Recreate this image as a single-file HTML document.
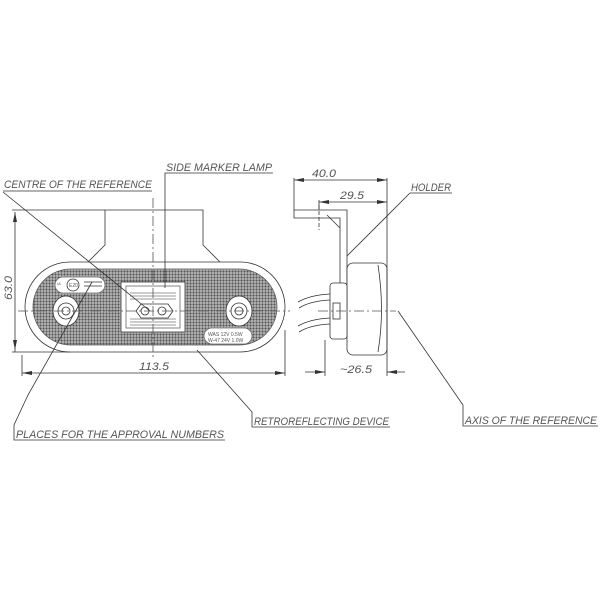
<!DOCTYPE html>
<html><head><meta charset="utf-8"><style>
html,body{margin:0;padding:0;background:#fff;}
svg{display:block}
text{font-family:"Liberation Sans",sans-serif;font-style:italic;fill:#555;font-size:11px;}
</style></head><body>
<svg width="600" height="600" viewBox="0 0 600 600" xmlns="http://www.w3.org/2000/svg">
<defs>
<pattern id="dots" width="3" height="3" patternUnits="userSpaceOnUse">
<rect width="3" height="3" fill="#bbb"/>
<circle cx="1.5" cy="1.5" r="1.1" fill="#555"/>
</pattern>
</defs>
<g fill="none" stroke="#333" stroke-width="0.8">
<polyline points="88,262 105,245 105,210 203,210 203,245 220,262"/>
<rect x="25" y="262" width="260" height="90" rx="45" fill="#fff"/>
<rect x="33" y="269" width="244" height="76" rx="38" fill="url(#dots)" stroke="#555"/>
<rect x="121" y="282" width="64" height="50" fill="#fff"/>
<rect x="126" y="286" width="54" height="42" fill="#fff" stroke="#666"/>
<g stroke="#777"><line x1="130" y1="293" x2="176" y2="293"/><line x1="130" y1="296" x2="176" y2="296"/><line x1="130" y1="299" x2="176" y2="299"/>
<line x1="130" y1="322" x2="176" y2="322"/><line x1="130" y1="325" x2="176" y2="325"/><line x1="130" y1="319" x2="176" y2="319"/></g>
<polygon points="136,311 141,304 168,304 173,311 168,318 141,318" fill="#fff"/>
<circle cx="145" cy="311" r="4"/><circle cx="162" cy="311" r="4"/>
<ellipse cx="66" cy="311" rx="13" ry="15" fill="#fff"/><circle cx="66" cy="311" r="8"/><circle cx="66" cy="311" r="4"/>
<ellipse cx="239" cy="311" rx="13" ry="15" fill="#fff"/><circle cx="239" cy="311" r="8"/><circle cx="239" cy="311" r="4"/>
<rect x="55" y="277" width="50" height="16" rx="8" fill="#fff" stroke="#666"/>
<circle cx="73" cy="285" r="6" fill="#fff"/>
<line x1="84" y1="282" x2="102" y2="282"/><line x1="84" y1="286" x2="102" y2="286"/>
<rect x="204" y="328" width="48" height="16" rx="8" fill="#fff" stroke="#666"/>
<line x1="153" y1="198" x2="153" y2="360" stroke-dasharray="10,3,2,3" stroke="#555"/>
<line x1="18" y1="311" x2="290" y2="311" stroke-dasharray="10,3,2,3" stroke="#555"/>
<line x1="15" y1="212" x2="15" y2="352"/><line x1="12" y1="210" x2="105" y2="210"/><line x1="12" y1="352" x2="70" y2="352"/>
<line x1="22" y1="355" x2="22" y2="376"/><line x1="285" y1="330" x2="285" y2="376"/>
<line x1="22" y1="373" x2="285" y2="373"/>
<polyline points="3,192 150,311"/>
<line x1="3" y1="191" x2="152" y2="191"/>
<polyline points="165,288 165,173 273,173"/>
<polyline points="92,282 28,395 14,425 14,440 225,440"/>
<polyline points="197,350 252,412 252,427 390,427"/>
<polyline points="398,311 463,405 463,426 598,426"/>
<polyline points="345,258 410,193 452,193"/>
<polyline points="294,210 294,218 340,218 340,330 347,330 347,210 294,210" fill="#fff"/>
<line x1="319" y1="205" x2="319" y2="230" stroke-dasharray="4,2"/>
<line x1="327" y1="215" x2="340" y2="228"/>
<rect x="347" y="263" width="40" height="92" rx="6" fill="#fff"/>
<path d="M378,265 Q385,310 378,352" />
<rect x="330" y="283" width="17" height="56" rx="3" fill="#fff"/>
<rect x="333" y="303" width="7" height="16"/>
<path d="M330,294 Q310,295 298,302 M330,300 Q310,301 299,308"/>
<path d="M330,318 Q310,319 298,326 M330,324 Q310,325 299,332"/>
<line x1="318" y1="311" x2="396" y2="311" stroke-dasharray="10,3,2,3" stroke="#555"/>
<line x1="294" y1="178" x2="294" y2="210"/><line x1="387" y1="178" x2="387" y2="376"/>
<line x1="294" y1="180" x2="387" y2="180"/>
<line x1="319" y1="200" x2="319" y2="210"/><line x1="319" y1="202" x2="387" y2="202"/>
<line x1="325" y1="340" x2="325" y2="376"/>
<line x1="305" y1="372" x2="325" y2="372"/><line x1="387" y1="372" x2="405" y2="372"/>
</g>
<g fill="#333">
<polygon points="15,212 13,222 17,222"/><polygon points="15,350 13,340 17,340"/>
<polygon points="22,373 32,371 32,375"/><polygon points="285,373 275,371 275,375"/>
<polygon points="294,180 304,178 304,182"/><polygon points="387,180 377,178 377,182"/>
<polygon points="319,202 329,200 329,204"/><polygon points="387,202 377,200 377,204"/>
<polygon points="325,372 315,370 315,374"/><polygon points="387,372 397,370 397,374"/>
</g>
<text x="4" y="188" textLength="148" lengthAdjust="spacingAndGlyphs">CENTRE OF THE REFERENCE</text>
<text x="166" y="171" textLength="106" lengthAdjust="spacingAndGlyphs">SIDE MARKER LAMP</text>
<text x="411" y="191" textLength="40" lengthAdjust="spacingAndGlyphs">HOLDER</text>
<text x="312" y="177" textLength="24" lengthAdjust="spacingAndGlyphs">40.0</text>
<text x="340" y="199" textLength="24" lengthAdjust="spacingAndGlyphs">29.5</text>
<text x="139" y="370" textLength="30" lengthAdjust="spacingAndGlyphs">113.5</text>
<text x="340" y="373" textLength="32" lengthAdjust="spacingAndGlyphs">~26.5</text>
<text transform="translate(12,300) rotate(-90)" textLength="24" lengthAdjust="spacingAndGlyphs">63.0</text>
<text x="254" y="425" textLength="135" lengthAdjust="spacingAndGlyphs">RETROREFLECTING DEVICE</text>
<text x="465" y="424" textLength="132" lengthAdjust="spacingAndGlyphs">AXIS OF THE REFERENCE</text>
<text x="16" y="438" textLength="208" lengthAdjust="spacingAndGlyphs">PLACES FOR THE APPROVAL NUMBERS</text>
<text x="208" y="336" style="font-size:5px;font-style:normal">WAS 12V 0.5W</text>
<text x="208" y="342" style="font-size:5px;font-style:normal">W-47 24V 1.0W</text>
<text x="69" y="287" style="font-size:5px;font-style:normal">E20</text>
<text x="57" y="285" style="font-size:4px;font-style:normal">IA</text>
</svg>
</body></html>
